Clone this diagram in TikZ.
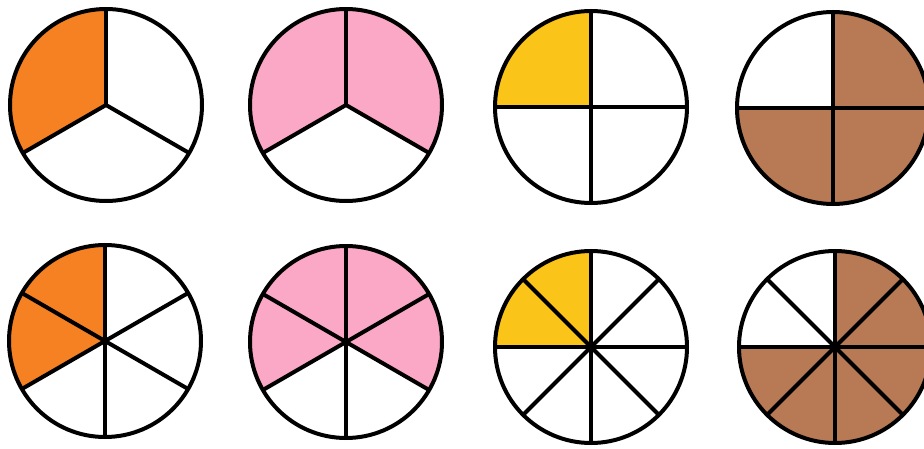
\documentclass[tikz,border=0pt]{standalone}
\definecolor{orng}{HTML}{F68123}
\definecolor{pnk}{HTML}{FBA8C7}
\definecolor{ylw}{HTML}{FBC418}
\definecolor{brwn}{HTML}{B87A55}
\newcommand\fracpie[7]{%
  \coordinate (#1) at (#2,#3);
  \fill[#4] (#1) -- ++(#5:96) arc[start angle=#5,end angle=#6,radius=96] -- cycle;
  \foreach \i [evaluate=\i as \a using 90+\i*360/#7] in {1,...,#7}
    \draw[pieline] (#1) -- ++(\a:96);
  \draw[pieline] (#1) circle[radius=96];
}
\begin{document}
\begin{tikzpicture}[x=1pt,y=1pt,pieline/.style={line width=4pt,black}]
\fill[white] (0,0) rectangle (924,448);
\useasboundingbox (0,0) rectangle (924,448);
% top row
\fracpie{a1}{106}{343}{orng}{90}{210}{3}
\fracpie{a2}{346}{343}{pnk}{-30}{210}{3}
\fracpie{a3}{591}{341}{ylw}{90}{180}{4}
\fracpie{a4}{833}{340}{brwn}{-180}{90}{4}
% bottom row
\fracpie{b1}{105}{107}{orng}{90}{210}{6}
\fracpie{b2}{346}{106}{pnk}{-30}{210}{6}
\fracpie{b3}{591}{101}{ylw}{90}{180}{8}
\fracpie{b4}{835}{101}{brwn}{-180}{90}{8}
\end{tikzpicture}
\end{document}
